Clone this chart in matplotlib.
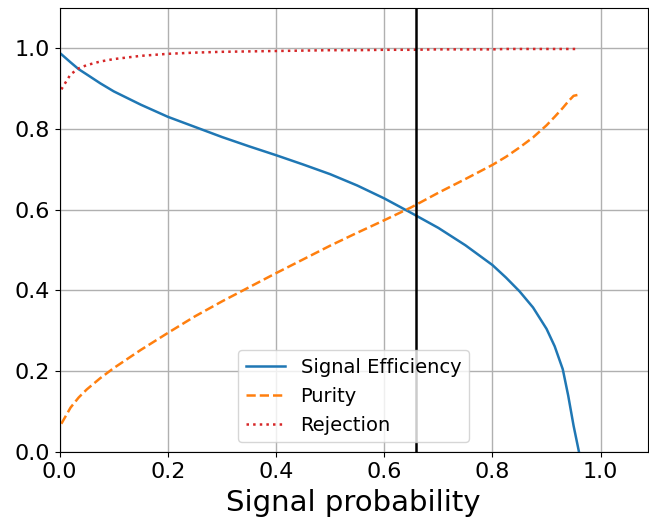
import matplotlib
matplotlib.use('Agg')
import matplotlib.pyplot as plt

# valori
prob = [0.003, 0.02, 0.035, 0.05, 0.075, 0.1, 0.15, 0.2, 0.25, 0.3, 0.35, 0.4, 0.45,
        0.5, 0.55, 0.6, 0.65, 0.7, 0.75, 0.8, 0.825, 0.85, 0.875, 0.9, 0.915,
        0.93, 0.94, 0.95, 0.96]
signal_eff = [0.985, 0.965, 0.948, 0.935, 0.913, 0.893, 0.860, 0.830, 0.805, 0.780, 0.757,
              0.735, 0.712, 0.688, 0.660, 0.628, 0.592, 0.555, 0.512, 0.463, 0.432,
              0.398, 0.358, 0.305, 0.262, 0.205, 0.140, 0.065, 0.0]
purity = [0.07, 0.110, 0.135, 0.155, 0.183, 0.208, 0.253, 0.295, 0.336, 0.373, 0.408,
          0.443, 0.477, 0.511, 0.543, 0.574, 0.606, 0.642, 0.676, 0.711, 0.731,
          0.754, 0.779, 0.809, 0.830, 0.852, 0.868, 0.882, 0.885]
rejection = [0.898, 0.935, 0.950, 0.958, 0.967, 0.973, 0.981, 0.986, 0.989, 0.991, 0.992,
             0.993, 0.994, 0.995, 0.995, 0.996, 0.996, 0.997, 0.997, 0.997, 0.998,
             0.998, 0.998, 0.998, 0.998, 0.998, 0.998, 0.998, 0.998]
cut = 0.658

fig = plt.figure(figsize=(6.49, 5.19), dpi=100)
ax = fig.add_axes([0.092, 0.129, 0.906, 0.856])

ax.plot(prob, signal_eff, '-', color='tab:blue', lw=1.8, label='Signal Efficiency')
ax.plot(prob, purity, '--', color='tab:orange', lw=1.8, label='Purity')
ax.plot(prob, rejection, ':', color='tab:red', lw=1.8, label='Rejection')
ax.axvline(cut, color='black', lw=1.8)

ax.set_xlim(0, 1.087)
ax.set_ylim(0, 1.1)
ax.set_xticks([0.0, 0.2, 0.4, 0.6, 0.8, 1.0])
ax.set_yticks([0.0, 0.2, 0.4, 0.6, 0.8, 1.0])
ax.tick_params(labelsize=16)
ax.grid(True, color='#b0b0b0', lw=1)
ax.set_xlabel('Signal probability', fontsize=21, labelpad=5)
ax.legend(loc='lower center', fontsize=14)

plt.savefig('out.png', dpi=100)
